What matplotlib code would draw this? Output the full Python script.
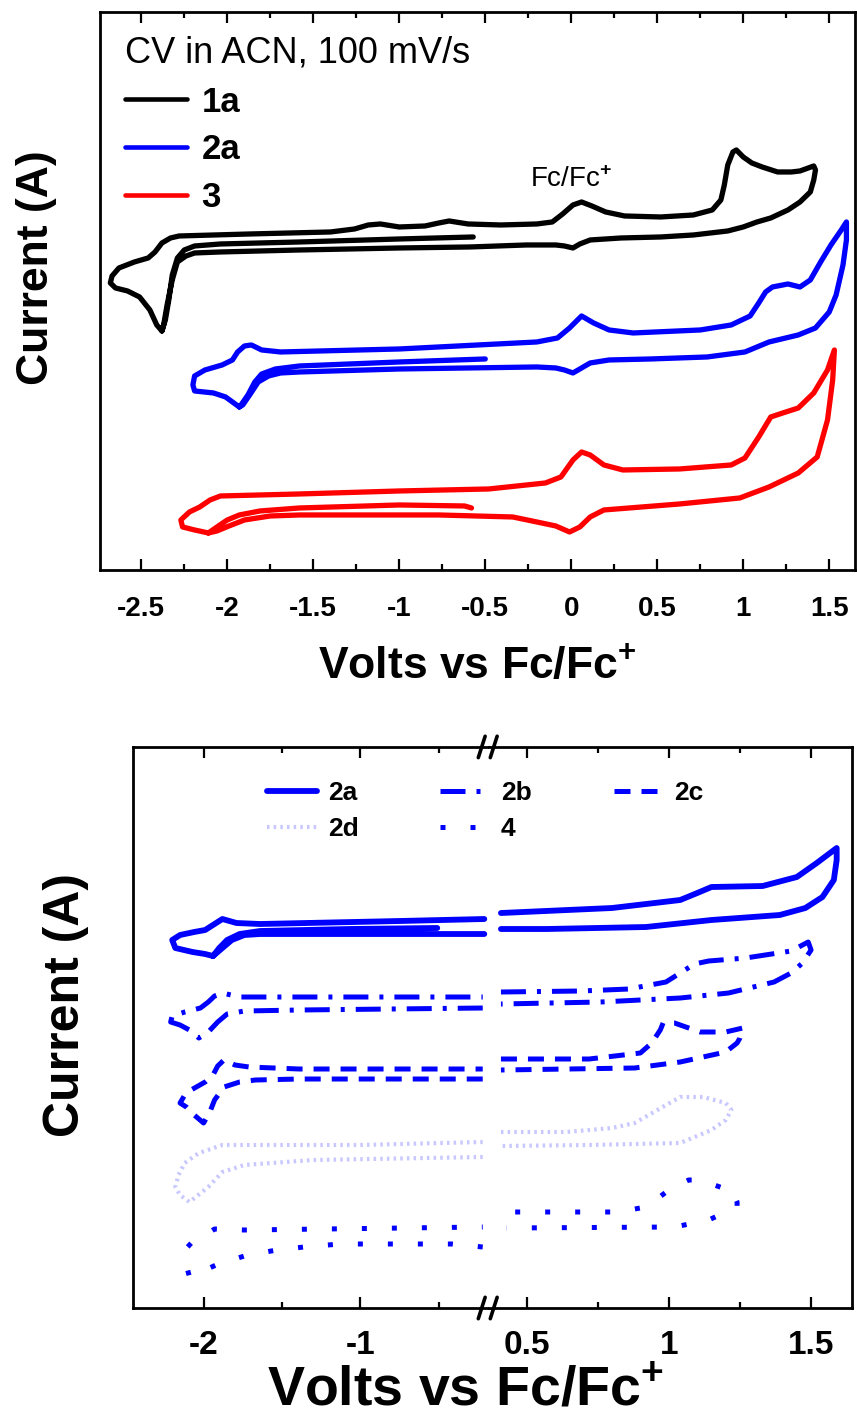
import matplotlib
matplotlib.use('Agg')
import matplotlib.pyplot as plt
import numpy as np
from matplotlib.ticker import MultipleLocator, FuncFormatter
from matplotlib.lines import Line2D

plt.rcParams['font.family'] = ['Liberation Sans', 'DejaVu Sans']
plt.rcParams['font.weight'] = 'bold'
plt.rcParams['mathtext.fontset'] = 'custom'
plt.rcParams['mathtext.rm'] = 'Liberation Sans'
plt.rcParams['mathtext.bf'] = 'Liberation Sans:bold'
plt.rcParams['axes.unicode_minus'] = False
plt.rcParams['lines.solid_joinstyle'] = 'round'
plt.rcParams['lines.solid_capstyle'] = 'round'

# ---- top panel: CV of 1a, 2a, 3 (potential in V vs Fc/Fc+, current in a.u., offset) ----
v_1a = [-0.57, -1.00, -1.58, -2.04, -2.19, -2.25, -2.29, -2.32, -2.34, -2.36,
        -2.38, -2.41, -2.45, -2.51, -2.58, -2.65, -2.68, -2.67, -2.63, -2.54,
        -2.46, -2.42, -2.38, -2.33, -2.28, -1.87, -1.40, -1.26, -1.18, -1.11,
        -1.00, -0.85, -0.77, -0.71, -0.60, -0.41, -0.20, -0.11, -0.05, 0.01,
        0.06, 0.12, 0.20, 0.31, 0.52, 0.71, 0.82, 0.87, 0.89, 0.91,
        0.94, 0.96, 1.00, 1.05, 1.11, 1.20, 1.28, 1.33, 1.41, 1.42,
        1.41, 1.39, 1.33, 1.26, 1.16, 1.08, 1.00, 0.91, 0.71, 0.52,
        0.29, 0.11, 0.05, 0.01, -0.04, -0.09, -0.26, -0.59, -1.00, -1.58,
        -2.04, -2.19, -2.24, -2.29, -2.32, -2.35, -2.37, -2.38]
i_1a = [33.3, 33.1, 32.8, 32.6, 32.4, 32.0, 31.2, 29.5, 27.0, 25.0,
        23.9, 24.5, 26.0, 27.3, 27.9, 28.2, 28.7, 29.4, 30.2, 30.8,
        31.2, 31.8, 32.7, 33.2, 33.4, 33.6, 33.8, 34.1, 34.5, 34.6,
        34.3, 34.4, 34.7, 34.9, 34.6, 34.5, 34.6, 34.8, 35.6, 36.5,
        36.8, 36.4, 35.8, 35.4, 35.3, 35.5, 36.0, 37.0, 38.5, 40.5,
        41.8, 42.0, 41.3, 40.7, 40.3, 39.8, 39.8, 39.9, 40.4, 40.0,
        39.0, 37.8, 36.8, 36.0, 35.2, 34.8, 34.3, 33.9, 33.5, 33.3,
        33.2, 33.0, 32.6, 32.2, 32.4, 32.5, 32.5, 32.3, 32.2, 32.0,
        31.8, 31.7, 31.4, 30.8, 29.0, 26.5, 24.5, 23.9]

v_2a = [-0.50, -1.00, -1.58, -1.72, -1.80, -1.84, -1.88, -1.92, -1.93, -1.97,
        -2.01, -2.08, -2.19, -2.20, -2.19, -2.13, -2.03, -1.97, -1.94, -1.90,
        -1.86, -1.80, -1.69, -1.00, -0.20, -0.08, -0.01, 0.06, 0.13, 0.22,
        0.36, 0.75, 0.93, 1.04, 1.09, 1.13, 1.17, 1.26, 1.33, 1.39,
        1.45, 1.51, 1.57, 1.60, 1.60, 1.58, 1.54, 1.50, 1.42, 1.32,
        1.15, 1.01, 0.79, 0.46, 0.22, 0.11, 0.05, 0.01, -0.04, -0.09,
        -0.20, -1.00, -1.58, -1.69, -1.76, -1.82, -1.87, -1.91, -1.93]
i_2a = [21.1, 20.8, 20.4, 20.1, 19.6, 18.8, 17.5, 16.5, 16.3, 16.8,
        17.3, 17.7, 17.9, 18.5, 19.4, 20.0, 20.5, 21.0, 21.8, 22.4,
        22.5, 22.0, 21.8, 22.1, 22.8, 23.2, 24.2, 25.4, 24.7, 24.0,
        23.7, 24.0, 24.5, 25.4, 26.7, 27.8, 28.3, 28.6, 28.3, 29.0,
        30.8, 32.5, 34.0, 34.8, 33.0, 30.5, 27.5, 25.8, 24.2, 23.5,
        22.8, 21.8, 21.3, 21.1, 21.0, 20.7, 20.1, 19.7, 20.0, 20.2,
        20.3, 20.1, 19.8, 19.7, 19.4, 18.8, 17.5, 16.5, 16.3]

v_3 = [-0.58, -0.62, -1.00, -1.58, -1.81, -1.93, -2.00, -2.06, -2.11, -2.19,
       -2.26, -2.27, -2.22, -2.16, -2.10, -2.04, -1.58, -1.00, -0.48, -0.15,
       -0.06, 0.01, 0.06, 0.11, 0.19, 0.30, 0.63, 0.93, 1.01, 1.09,
       1.16, 1.23, 1.32, 1.41, 1.49, 1.53, 1.52, 1.49, 1.43, 1.32,
       1.15, 0.98, 0.63, 0.19, 0.11, 0.05, -0.01, -0.09, -0.20, -0.34,
       -0.77, -1.58, -1.75, -1.90, -1.99, -2.06, -2.11]
i_3 = [6.2, 6.4, 6.5, 6.2, 5.9, 5.5, 5.0, 4.3, 3.7, 4.0,
       4.3, 5.0, 5.8, 6.3, 7.0, 7.4, 7.6, 7.9, 8.1, 8.7,
       9.3, 11.0, 11.8, 11.5, 10.5, 10.0, 10.1, 10.5, 11.2, 13.3,
       15.3, 15.7, 16.2, 17.7, 20.0, 22.0, 19.0, 15.0, 11.3, 9.7,
       8.3, 7.2, 6.6, 6.0, 5.3, 4.3, 3.8, 4.4, 4.8, 5.3,
       5.5, 5.5, 5.4, 5.0, 4.4, 3.9, 3.7]

# ---- bottom panel: broken potential axis ----
bv_2a = [-0.51, -1.07, -1.64, -1.77, -1.85, -1.90, -1.94, -1.99, -2.07, -2.18,
         -2.20, -2.15, -2.06, -1.99, -1.94, -1.88, -1.79, -1.64, -0.75, -0.21,
         0.07, 0.41, 0.80, 1.04, 1.10, 1.15, 1.33, 1.45, 1.52, 1.59,
         1.59, 1.58, 1.54, 1.48, 1.39, 1.15, 0.92, 0.57, 0.41, 0.00,
         -0.21, -1.07, -1.64, -1.74, -1.82, -1.88, -1.94]
bi_2a = [38.0, 37.9, 37.7, 37.4, 36.8, 36.0, 35.2, 35.4, 35.6, 36.0,
         36.8, 37.3, 37.6, 37.8, 38.3, 38.9, 38.5, 38.4, 38.7, 38.9,
         41.0, 39.5, 40.0, 40.8, 41.5, 42.1, 42.2, 43.1, 44.5, 46.0,
         44.8, 42.8, 41.1, 40.0, 39.3, 38.8, 38.1, 37.9, 37.9, 36.0,
         37.4, 37.4, 37.4, 37.3, 36.8, 36.0, 35.2]

bv_2b = [-0.22, -1.39, -1.74, -1.85, -1.91, -1.97, -2.03, -2.09, -2.15, -2.21,
         -2.20, -2.12, -2.02, -1.97, -1.93, -1.88, -1.77, -1.39, -0.22, 0.07,
         0.41, 0.69, 0.86, 0.99, 1.09, 1.14, 1.27, 1.43, 1.49, 1.50,
         1.47, 1.43, 1.37, 1.21, 1.04, 0.76, 0.41, 0.00, -0.22]
bi_2b = [30.0, 29.8, 29.7, 29.4, 28.6, 27.6, 27.0, 27.8, 28.3, 28.6,
         29.2, 29.6, 30.0, 30.6, 31.2, 31.5, 31.1, 31.1, 31.1, 33.0,
         31.6, 31.7, 31.9, 32.6, 34.4, 34.7, 35.0, 35.7, 36.6, 35.8,
         34.5, 33.5, 32.6, 31.5, 31.0, 30.6, 30.4, 29.0, 30.0]

bv_2c = [-0.22, -1.39, -1.67, -1.77, -1.87, -1.93, -1.96, -2.00, -2.06, -2.11,
         -2.15, -2.12, -2.08, -1.99, -1.94, -1.91, -1.87, -1.80, -1.71, -1.39,
         -0.22, 0.07, 0.41, 0.72, 0.90, 0.94, 0.97, 0.98, 1.02, 1.11,
         1.20, 1.26, 1.25, 1.24, 1.20, 1.04, 0.88, 0.41, 0.00, -0.22]
bi_2c = [22.9, 22.9, 22.8, 22.6, 22.1, 20.8, 19.6, 18.5, 19.3, 20.1,
         20.5, 21.3, 21.8, 22.6, 23.3, 24.2, 24.8, 24.3, 24.1, 23.9,
         23.9, 26.0, 24.9, 24.9, 25.5, 26.5, 27.8, 28.5, 28.5, 27.6,
         27.6, 28.0, 27.0, 26.5, 25.6, 24.6, 24.0, 23.8, 22.0, 22.9]

bv_2d = [-0.22, -1.30, -1.74, -1.88, -1.97, -2.09, -2.15, -2.18, -2.16, -2.12,
         -2.03, -1.88, -1.00, -0.22, 0.07, 0.41, 0.64, 0.80, 0.88, 0.96,
         1.04, 1.12, 1.20, 1.22, 1.20, 1.15, 1.04, 0.72, 0.41, 0.00, -0.22]
bi_2d = [15.1, 14.8, 14.3, 13.6, 12.1, 10.6, 11.3, 12.1, 13.3, 14.5,
         15.5, 16.3, 16.3, 16.6, 18.0, 17.6, 17.6, 18.0, 18.5, 19.8,
         21.1, 21.1, 20.5, 19.8, 18.8, 17.8, 16.5, 16.3, 16.2, 14.5, 15.1]

bv_4 = [-0.22, -0.42, -1.13, -1.36, -1.53, -1.72, -1.92, -2.09, -2.11, -2.12,
        -2.06, -1.97, -1.93, -1.74, -0.72, -0.22, 0.07, 0.46, 0.82, 0.92,
        1.01, 1.07, 1.11, 1.19, 1.22, 1.24, 1.24, 1.14, 1.02, 0.43, 0.00, -0.22]
bi_4 = [6.1, 6.4, 6.4, 6.1, 5.8, 5.3, 4.3, 3.1, 4.3, 5.8,
        6.8, 7.5, 7.9, 7.8, 8.0, 8.1, 10.0, 9.6, 9.6, 10.1,
        12.0, 12.8, 12.8, 12.0, 12.0, 10.6, 10.1, 8.8, 8.1, 8.0, 6.0, 6.1]

break_lo, break_hi = -0.2, 0.39   # potentials hidden by the axis break

fmt = FuncFormatter(lambda v, p: '%g' % (round(v, 3) + 0.0))


def style_x(ax, major, minor, size, pad):
    ax.xaxis.set_major_locator(MultipleLocator(major))
    ax.xaxis.set_minor_locator(MultipleLocator(minor))
    ax.xaxis.set_major_formatter(fmt)
    ax.tick_params(axis='x', which='both', direction='in', top=True, bottom=True,
                   width=1.6, labelsize=size, pad=pad)
    ax.tick_params(axis='x', which='major', length=8)
    ax.tick_params(axis='x', which='minor', length=4)
    ax.set_yticks([])
    for s in ax.spines.values():
        s.set_linewidth(2)


fig = plt.figure(figsize=(8.57, 14.26), dpi=100)

# ---------------- top ----------------
ax = fig.add_axes([0.1167, 0.6003, 0.881, 0.3913])
ax.plot(v_1a, i_1a, color='black', lw=3.8, label='1a')
ax.plot(v_2a, i_2a, color='#0000ff', lw=3.8, label='2a')
ax.plot(v_3, i_3, color='#ff0000', lw=3.8, label='3')
ax.set_xlim(-2.74, 1.65)
ax.set_ylim(0, 55.8)
style_x(ax, 0.5, 0.25, 20, 19)
ax.text(-0.24, 39.0, 'Fc/Fc$^{+}$', fontsize=20, fontweight='normal', va='center', ha='left')
leg = ax.legend(loc='upper left', bbox_to_anchor=(0.033, 0.957), frameon=False, borderpad=0,
                borderaxespad=0, title='CV in ACN, 100 mV/s', alignment='left',
                handlelength=1.8, handletextpad=0.4, labelspacing=0.42,
                prop={'weight': 'bold', 'size': 25},
                title_fontproperties={'weight': 'normal', 'size': 26})
for ln in leg.get_lines():
    ln.set_linewidth(3.3)
fig.text(0.0430, 0.8121, 'Current (A)', rotation=90, ha='center', va='center', fontsize=32)
fig.text(0.5566, 0.5316, r'Volts vs Fc/Fc$^{\mathbf{+}}$', ha='center', va='center', fontsize=32)

# ---------------- bottom (broken axis) ----------------
axl = fig.add_axes([0.1552, 0.08275, 0.4154, 0.3934])
axr = fig.add_axes([0.5706, 0.08275, 0.4236, 0.3934])

series = [
    ('2a', bv_2a, bi_2a, '#0000ff', '-', 4.2),
    ('2b', bv_2b, bi_2b, '#0000ff', (0, (5, 2.2, 0.8, 2.2)), 3.6),
    ('2c', bv_2c, bi_2c, '#0000ff', (0, (3.2, 2.2)), 3.6),
    ('2d', bv_2d, bi_2d, '#c8c8ff', (0, (0.6, 1.0)), 3.0),
    ('4', bv_4, bi_4, '#0000ff', (0, (1.0, 5.0)), 3.6),
]
handles = {}
for name, v, cur, col, ls, lw in series:
    v = np.array(v)
    cur = np.array(cur, dtype=float)
    cur[(v > break_lo) & (v < break_hi)] = np.nan
    for a in (axl, axr):
        h, = a.plot(v, cur, color=col, ls=ls, lw=lw)
    handles[name] = h

axl.set_xlim(-2.45, -0.18)
axr.set_xlim(0.368, 1.644)
for a in (axl, axr):
    a.set_ylim(0, 56.1)
style_x(axl, 1.0, 0.5, 24, 16)
style_x(axr, 0.5, 0.25, 24, 16)
axl.spines['right'].set_visible(False)
axr.spines['left'].set_visible(False)

# break marks "//"
for yb in (0.4762, 0.08275):
    for dx in (-0.0085, 0.0055):
        fig.add_artist(Line2D([0.5706 + dx - 0.004, 0.5706 + dx + 0.004],
                              [yb - 0.0075, yb + 0.0075], color='black', lw=2.6,
                              transform=fig.transFigure))

order = ['2a', '2d', '2b', '4', '2c']
fig.legend([handles[k] for k in order], order, ncol=3, loc='upper left',
           bbox_to_anchor=(267 / 857, 0.4520), frameon=False, borderpad=0,
           borderaxespad=0, prop={'weight': 'bold', 'size': 19}, handlelength=1.9,
           handletextpad=0.4, columnspacing=3.1, labelspacing=0.45)

fig.text(0.077, 0.2952, 'Current (A)', rotation=90, ha='center', va='center', fontsize=36)
fig.text(0.5426, 0.0245, r'Volts vs Fc/Fc$^{\mathbf{+}}$', ha='center', va='center', fontsize=40)

fig.savefig('out.png', dpi=100)
